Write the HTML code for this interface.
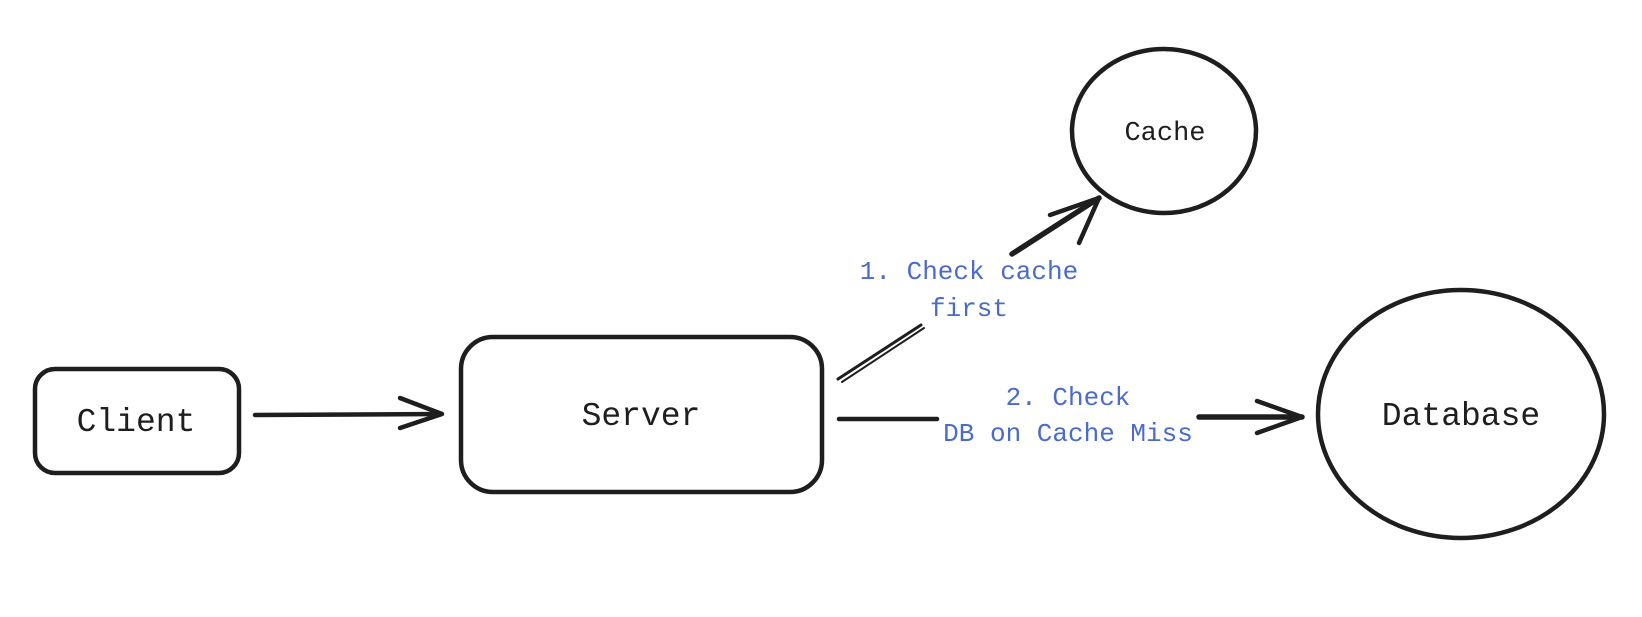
<!DOCTYPE html>
<html><head><meta charset="utf-8"><style>
html,body{margin:0;padding:0;background:#fff}
svg{display:block}
text{font-family:"Liberation Mono",monospace}
</style></head><body>
<svg width="1642" height="617" viewBox="0 0 1642 617" xmlns="http://www.w3.org/2000/svg">
<g fill="none" stroke="#1e1e1e" stroke-width="4.5" stroke-linecap="round" stroke-linejoin="round">
  <rect x="35" y="369" width="204" height="104" rx="20"/>
  <rect x="461" y="337" width="361" height="155" rx="32"/>
  <ellipse cx="1164" cy="131" rx="92" ry="82"/>
  <ellipse cx="1461" cy="414" rx="143" ry="124"/>
  <path d="M255 415 L441 414"/>
  <path d="M400 398 L442 414 L400 428"/>
  <path d="M838 379 L921 325" stroke-width="3"/>
  <path d="M842 382 L924 328" stroke-width="2"/>
  <path d="M1012 254 L1099 198" stroke-width="5.5"/>
  <path d="M1050 215 L1099 198 L1079 243"/>
  <path d="M839 419 L937 419"/>
  <path d="M1199 417 L1302 417" stroke-width="5.5"/>
  <path d="M1257 401 L1302 417 L1257 433"/>
</g>
<g fill="#1e1e1e" text-anchor="middle">
  <text x="136" y="431" font-size="33">Client</text>
  <text x="641" y="425" font-size="33">Server</text>
  <text x="1165" y="140" font-size="27">Cache</text>
  <text x="1461" y="425" font-size="33">Database</text>
</g>
<g fill="#4a6bc8" text-anchor="middle" font-size="26">
  <text x="969" y="279">1. Check cache</text>
  <text x="969" y="316">first</text>
  <text x="1068" y="405">2. Check</text>
  <text x="1068" y="441">DB on Cache Miss</text>
</g>
</svg>
</body></html>
